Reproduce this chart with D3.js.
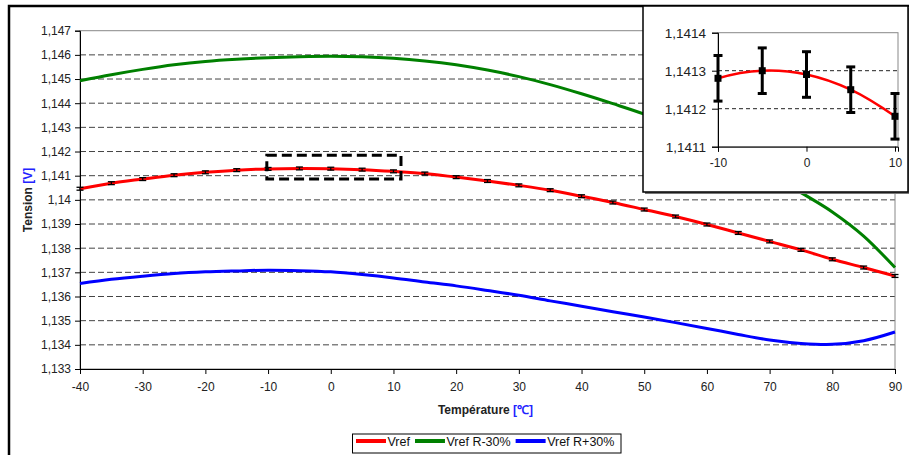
<!DOCTYPE html>
<html>
<head>
<meta charset="utf-8">
<script src="https://cdn.jsdelivr.net/npm/d3@7"></script>
<style>
  body { margin: 0; background: #fff; }
  text { font-family: Arial, "Liberation Sans", sans-serif; }
</style>
</head>
<body>
<div id="chart"></div>
<script>
// temperatures (°C), one point every 5 degrees
const temps = [-40, -35, -30, -25, -20, -15, -10, -5, 0, 5, 10, 15, 20, 25, 30, 35, 40, 45, 50, 55, 60, 65, 70, 75, 80, 85, 90];

// Vref (red) with its error bars
const vref = [1.14046, 1.14069, 1.14086, 1.14102, 1.14114, 1.14123, 1.14128, 1.14130, 1.14129, 1.14125, 1.14118, 1.14109, 1.14094,
  1.14078, 1.14060, 1.14040, 1.14015, 1.13989, 1.13960, 1.13931, 1.13898, 1.13863, 1.13828, 1.13793, 1.13754, 1.13720, 1.13685];
// Vref R-30% (green)
const vrefMinus30 = [1.14493, 1.14518, 1.14540, 1.14559, 1.14573, 1.14582, 1.14588, 1.14592, 1.14594, 1.14592, 1.14586, 1.14575, 1.14559,
  1.14537, 1.14510, 1.14477, 1.14439, 1.14398, 1.14355, 1.14305, 1.14248, 1.14182, 1.14108, 1.14030, 1.13950, 1.13850, 1.13720];
// Vref R+30% (blue)
const vrefPlus30 = [1.13654, 1.13671, 1.13684, 1.13695, 1.13702, 1.13706, 1.13709, 1.13707, 1.13702, 1.13691, 1.13677, 1.13660, 1.13644,
  1.13625, 1.13605, 1.13582, 1.13560, 1.13537, 1.13515, 1.13492, 1.13468, 1.13443, 1.13420, 1.13406, 1.13402, 1.13417, 1.13453];
// error on Vref (+/-)
const vrefErr = 0.00006;

// main chart ticks
const xTicks = [-40, -30, -20, -10, 0, 10, 20, 30, 40, 50, 60, 70, 80, 90];
const yTicks = [1.133, 1.134, 1.135, 1.136, 1.137, 1.138, 1.139, 1.14, 1.141, 1.142, 1.143, 1.144, 1.145, 1.146, 1.147];

// zoomed inset
const insetTemps = [-10, -5, 0, 5, 10];
const insetXTicks = [-10, 0, 10];
const insetYTicks = [1.1411, 1.1412, 1.1413, 1.1414];
// dashed box on the main chart marking the zoomed area [t0, t1, v0, v1]
const zoomBox = [-10.2, 11.2, 1.14086, 1.14185];

const series = [
  { name: "Vref", values: vref, color: "#ff0000" },
  { name: "Vref R-30%", values: vrefMinus30, color: "#008000" },
  { name: "Vref R+30%", values: vrefPlus30, color: "#0000ff" }
];

const commaFmt = d => String(+d.toFixed(4)).replace(".", ",");
const plainFmt = d => String(d); // hyphen minus, like the original

const width = 909, height = 455;
const svg = d3.select("#chart").append("svg")
  .attr("width", width)
  .attr("height", height);

// outer frame
svg.append("rect")
  .attr("x", 9).attr("y", 6)
  .attr("width", 920).attr("height", 470)
  .attr("fill", "#fff")
  .attr("stroke", "#000")
  .attr("stroke-width", 2.5);

// ---------- main chart ----------
const x = d3.scaleLinear().domain([-40, 90]).range([80, 895]);
const y = d3.scaleLinear().domain([1.133, 1.147]).range([369, 30.7]);

// dashed gridlines
svg.append("g").selectAll("line")
  .data(yTicks.slice(1, -1))
  .enter().append("line")
  .attr("x1", x(-40)).attr("x2", x(90))
  .attr("y1", d => y(d)).attr("y2", d => y(d))
  .attr("stroke", "#444")
  .attr("stroke-dasharray", "6,3");

// plot area border (top / right)
svg.append("rect")
  .attr("x", x(-40)).attr("y", y(1.147))
  .attr("width", x(90) - x(-40)).attr("height", y(1.133) - y(1.147))
  .attr("fill", "none")
  .attr("stroke", "#888");

const xAxis = svg.append("g")
  .attr("transform", "translate(0," + y(1.133) + ")")
  .call(d3.axisBottom(x).tickValues(xTicks).tickFormat(plainFmt).tickSize(5).tickPadding(8));
const yAxis = svg.append("g")
  .attr("transform", "translate(" + x(-40) + ",0)")
  .call(d3.axisLeft(y).tickValues(yTicks).tickFormat(commaFmt).tickSize(5).tickPadding(4));
[xAxis, yAxis].forEach(function (g) {
  g.selectAll("path, line").attr("stroke", "#000");
  g.selectAll("text").attr("font-size", "12px").attr("fill", "#222");
});

const line = function (xs, ys) {
  return d3.line()
    .x(function (d, i) { return xs(temps[i]); })
    .y(function (d) { return ys(d); })
    .curve(d3.curveCardinal.tension(0));
};

// series lines
series.forEach(function (s) {
  svg.append("path")
    .datum(s.values)
    .attr("d", line(x, y))
    .attr("fill", "none")
    .attr("stroke", s.color)
    .attr("stroke-width", 3);
});

// Vref error bars
const errG = svg.append("g").attr("stroke", "#000").attr("stroke-width", 1.3);
temps.forEach(function (t, i) {
  const cx = x(t);
  errG.append("line").attr("x1", cx).attr("x2", cx).attr("y1", y(vref[i] - vrefErr)).attr("y2", y(vref[i] + vrefErr));
  [vref[i] - vrefErr, vref[i] + vrefErr].forEach(function (v) {
    errG.append("line").attr("x1", cx - 3.5).attr("x2", cx + 3.5).attr("y1", y(v)).attr("y2", y(v));
  });
});

// dashed box for the zoom
svg.append("rect")
  .attr("x", x(zoomBox[0])).attr("y", y(zoomBox[3]))
  .attr("width", x(zoomBox[1]) - x(zoomBox[0]))
  .attr("height", y(zoomBox[2]) - y(zoomBox[3]))
  .attr("fill", "none")
  .attr("stroke", "#000")
  .attr("stroke-width", 3)
  .attr("stroke-dasharray", "10,5");

// axis titles
const xTitle = svg.append("text")
  .attr("x", 485.5).attr("y", 413.5)
  .attr("text-anchor", "middle")
  .attr("font-size", "12px")
  .attr("font-weight", "bold");
xTitle.append("tspan").attr("fill", "#222").text("Température ");
xTitle.append("tspan").attr("fill", "#2222ff").text("[℃]");

const yTitle = svg.append("text")
  .attr("transform", "translate(32,200) rotate(-90)")
  .attr("text-anchor", "middle")
  .attr("font-size", "12px")
  .attr("font-weight", "bold");
yTitle.append("tspan").attr("fill", "#222").text("Tension ");
yTitle.append("tspan").attr("fill", "#2222ff").text("[V]");

// legend
const legend = svg.append("g");
legend.append("rect")
  .attr("x", 352.5).attr("y", 434)
  .attr("width", 268.5).attr("height", 19)
  .attr("fill", "#fff")
  .attr("stroke", "#000");
let lx = 356;
series.forEach(function (s) {
  legend.append("line")
    .attr("x1", lx).attr("x2", lx + 30)
    .attr("y1", 441).attr("y2", 441)
    .attr("stroke", s.color)
    .attr("stroke-width", 4);
  const t = legend.append("text")
    .attr("x", lx + 31.5).attr("y", 446)
    .attr("font-size", "12.5px")
    .attr("fill", "#111")
    .text(s.name);
  lx = lx + 31.5 + t.node().getComputedTextLength() + 5;
});

// ---------- inset ----------
const inset = svg.append("g");
inset.append("rect")
  .attr("x", 645).attr("y", 8)
  .attr("width", 265).attr("height", 186)
  .attr("fill", "#777");
inset.append("rect")
  .attr("x", 643).attr("y", 6)
  .attr("width", 265).attr("height", 186)
  .attr("fill", "#fff")
  .attr("stroke", "#000")
  .attr("stroke-width", 1.5);

const ix = d3.scaleLinear().domain([-10, 10.34]).range([718, 898]);
const iy = d3.scaleLinear().domain([1.1411, 1.1414]).range([146.7, 32.7]);

inset.append("g").selectAll("line")
  .data(insetYTicks.slice(1, -1))
  .enter().append("line")
  .attr("x1", ix(-10)).attr("x2", ix(10.34))
  .attr("y1", d => iy(d)).attr("y2", d => iy(d))
  .attr("stroke", "#222")
  .attr("stroke-dasharray", "4,3");

inset.append("rect")
  .attr("x", ix(-10)).attr("y", iy(1.1414))
  .attr("width", ix(10.34) - ix(-10)).attr("height", iy(1.1411) - iy(1.1414))
  .attr("fill", "none")
  .attr("stroke", "#888");

const ixAxis = inset.append("g")
  .attr("transform", "translate(0," + iy(1.1411) + ")")
  .call(d3.axisBottom(ix).tickValues(insetXTicks).tickFormat(plainFmt).tickSize(5).tickPadding(7));
const iyAxis = inset.append("g")
  .attr("transform", "translate(" + ix(-10) + ",0)")
  .call(d3.axisLeft(iy).tickValues(insetYTicks).tickFormat(commaFmt).tickSize(6).tickPadding(6));
[ixAxis, iyAxis].forEach(function (g) {
  g.selectAll("path, line").attr("stroke", "#000");
  g.selectAll("text").attr("fill", "#222");
});
ixAxis.selectAll("text").attr("font-size", "12px");
iyAxis.selectAll("text").attr("font-size", "13.5px");

// clip the red curve to the inset plot area
svg.append("clipPath").attr("id", "insetClip")
  .append("rect")
  .attr("x", ix(-10)).attr("y", iy(1.1414))
  .attr("width", ix(10.34) - ix(-10)).attr("height", iy(1.1411) - iy(1.1414));

inset.append("path")
  .datum(vref)
  .attr("d", line(ix, iy))
  .attr("clip-path", "url(#insetClip)")
  .attr("fill", "none")
  .attr("stroke", "#ff0000")
  .attr("stroke-width", 2.5);

const iErr = inset.append("g").attr("stroke", "#000").attr("stroke-width", 3);
insetTemps.forEach(function (t) {
  const v = vref[temps.indexOf(t)];
  const cx = ix(t);
  iErr.append("line").attr("x1", cx).attr("x2", cx).attr("y1", iy(v - vrefErr)).attr("y2", iy(v + vrefErr));
  [v - vrefErr, v + vrefErr].forEach(function (e) {
    iErr.append("line").attr("x1", cx - 4.5).attr("x2", cx + 4.5).attr("y1", iy(e)).attr("y2", iy(e));
  });
  inset.append("rect")
    .attr("x", cx - 3.5).attr("y", iy(v) - 3.5)
    .attr("width", 7).attr("height", 7)
    .attr("fill", "#000");
});
</script>
</body>
</html>
